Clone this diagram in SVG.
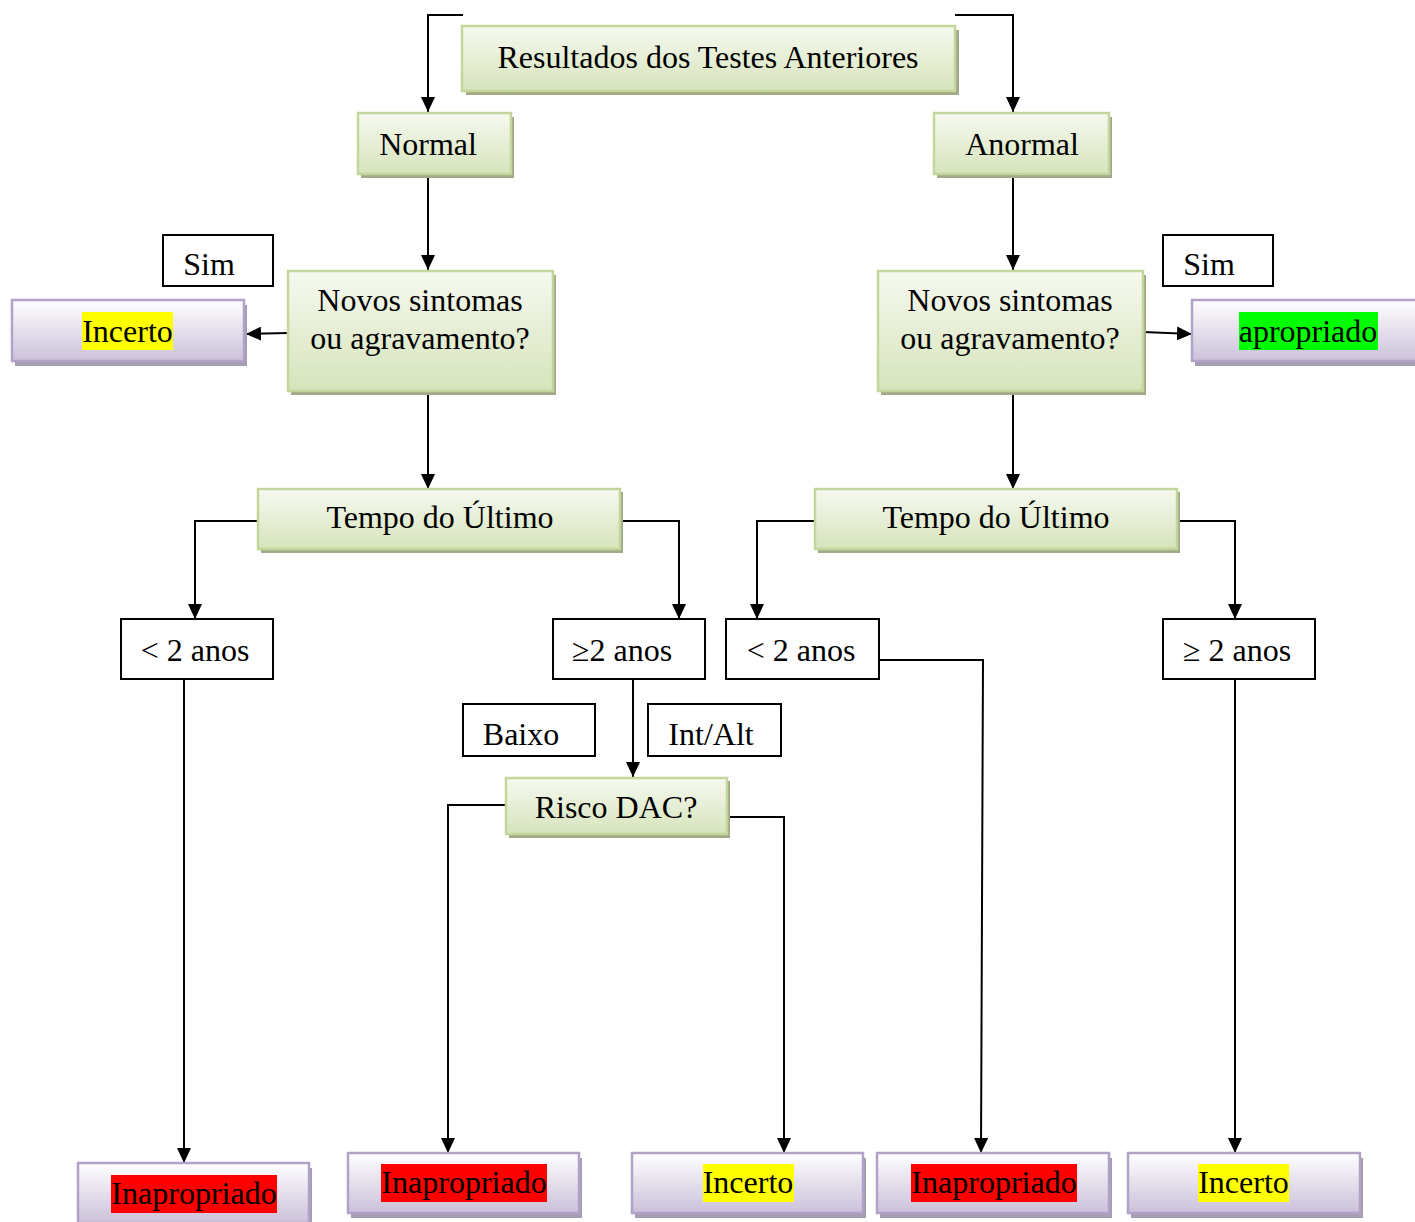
<svg xmlns="http://www.w3.org/2000/svg" width="1415" height="1222" viewBox="0 0 1415 1222">
<defs>
<linearGradient id="gG" x1="0" y1="0" x2="0" y2="1"><stop offset="0" stop-color="#f6f9f0"/><stop offset="1" stop-color="#d6e4bb"/></linearGradient>
<linearGradient id="gP" x1="0" y1="0" x2="0" y2="1"><stop offset="0" stop-color="#ffffff"/><stop offset="1" stop-color="#cbc0da"/></linearGradient>
<marker id="ar" markerUnits="userSpaceOnUse" markerWidth="15" markerHeight="14" refX="15" refY="7" orient="auto"><path d="M0,0 L15,7 L0,14 z" fill="#000"/></marker>
<style>
.g{fill:url(#gG);stroke:#c3d69b;stroke-width:2.5}
.gs{fill:#a1aa88}
.p{fill:url(#gP);stroke:#b3a2c7;stroke-width:2.5}
.ps{fill:#a59eb2}
.w{fill:#fff;stroke:#000;stroke-width:2}
.t{font-family:"Liberation Serif","Times New Roman",serif;font-size:32px;fill:#000;text-anchor:middle}
.c{fill:none;stroke:#000;stroke-width:2;marker-end:url(#ar)}
.hy{fill:#ffff00}.hr{fill:#ff0000}.hg{fill:#00ff00}
</style>
</defs>
<g id="connectors">
<path class="c" d="M463,15 H428 V112"/>
<path class="c" d="M955,15 H1013 V112"/>
<path class="c" d="M428,176 V270"/>
<path class="c" d="M1013,176 V270"/>
<path class="c" d="M288,333 L246,334"/>
<path class="c" d="M1143,332 L1192,334"/>
<path class="c" d="M428,392 V489"/>
<path class="c" d="M1013,392 V489"/>
<path class="c" d="M258,521 H195 V619"/>
<path class="c" d="M621,521 H679 V619"/>
<path class="c" d="M815,521 H757 V619"/>
<path class="c" d="M1177,521 H1235 V619"/>
<path class="c" d="M184,680 V1163"/>
<path class="c" d="M633,680 V777"/>
<path class="c" d="M506,805 H448 V1153"/>
<path class="c" d="M728,817 H784 V1153"/>
<path class="c" d="M879,660 H983 L981,1153"/>
<path class="c" d="M1235,680 V1153"/>
</g>
<g id="n-resultados"><rect class="gs" x="466" y="30" width="493" height="65"/><rect class="g" x="462" y="26" width="493" height="65"/><text class="t" x="708" y="68">Resultados dos Testes Anteriores</text></g>
<g id="n-normal"><rect class="gs" x="361" y="117" width="153" height="61"/><rect class="g" x="358" y="113" width="153" height="61"/><text class="t" x="428" y="155">Normal</text></g>
<g id="n-anormal"><rect class="gs" x="937" y="117" width="175" height="61"/><rect class="g" x="934" y="113" width="175" height="61"/><text class="t" x="1022" y="155">Anormal</text></g>
<g id="n-sim-l"><rect class="w" x="163" y="235" width="110" height="51"/><text class="t" x="209" y="275">Sim</text></g>
<g id="n-sim-r"><rect class="w" x="1163" y="235" width="110" height="51"/><text class="t" x="1209" y="275">Sim</text></g>
<g id="n-novos-l"><rect class="gs" x="291" y="275" width="265" height="120"/><rect class="g" x="288" y="271" width="265" height="120"/><text class="t" x="420" y="311">Novos sintomas</text><text class="t" x="420" y="349">ou agravamento?</text></g>
<g id="n-novos-r"><rect class="gs" x="881" y="275" width="265" height="120"/><rect class="g" x="878" y="271" width="265" height="120"/><text class="t" x="1010" y="311">Novos sintomas</text><text class="t" x="1010" y="349">ou agravamento?</text></g>
<g id="n-incerto-l"><rect class="ps" x="15" y="305" width="232" height="61"/><rect class="p" x="12" y="300" width="232" height="61"/><rect class="hy" x="82" y="312" width="91" height="38"/><text class="t" x="127.5" y="342">Incerto</text></g>
<g id="n-apropriado"><rect class="ps" x="1195" y="305" width="232" height="61"/><rect class="p" x="1192" y="300" width="232" height="61"/><rect class="hg" x="1239" y="312" width="139" height="38"/><text class="t" x="1308" y="342">apropriado</text></g>
<g id="n-tempo-l"><rect class="gs" x="261" y="492" width="362" height="61"/><rect class="g" x="258" y="489" width="362" height="60"/><text class="t" x="440" y="528">Tempo do Último</text></g>
<g id="n-tempo-r"><rect class="gs" x="818" y="492" width="362" height="61"/><rect class="g" x="815" y="489" width="362" height="60"/><text class="t" x="996" y="528">Tempo do Último</text></g>
<g id="n-menos2-l"><rect class="w" x="121" y="619" width="152" height="60"/><text class="t" x="195" y="661">&lt; 2 anos</text></g>
<g id="n-mais2-l"><rect class="w" x="553" y="619" width="152" height="60"/><text class="t" x="622" y="661">≥2 anos</text></g>
<g id="n-menos2-r"><rect class="w" x="726" y="619" width="153" height="60"/><text class="t" x="801" y="661">&lt; 2 anos</text></g>
<g id="n-mais2-r"><rect class="w" x="1163" y="619" width="152" height="60"/><text class="t" x="1237" y="661">≥ 2 anos</text></g>
<g id="n-baixo"><rect class="w" x="463" y="704" width="132" height="52"/><text class="t" x="521" y="745">Baixo</text></g>
<g id="n-intalt"><rect class="w" x="648" y="704" width="133" height="52"/><text class="t" x="711" y="745">Int/Alt</text></g>
<g id="n-risco"><rect class="gs" x="509" y="781" width="221" height="57"/><rect class="g" x="506" y="778" width="221" height="56"/><text class="t" x="616" y="818">Risco DAC?</text></g>
<g id="n-inap1"><rect class="ps" x="81" y="1168" width="231" height="60"/><rect class="p" x="78" y="1163" width="231" height="60"/><rect class="hr" x="111" y="1175" width="166" height="38"/><text class="t" x="194" y="1204">Inapropriado</text></g>
<g id="n-inap2"><rect class="ps" x="351" y="1158" width="231" height="60"/><rect class="p" x="348" y="1153" width="231" height="60"/><rect class="hr" x="381" y="1164" width="166" height="38"/><text class="t" x="464" y="1193">Inapropriado</text></g>
<g id="n-incerto-m"><rect class="ps" x="635" y="1158" width="231" height="60"/><rect class="p" x="632" y="1153" width="231" height="60"/><rect class="hy" x="703" y="1164" width="91" height="38"/><text class="t" x="748" y="1193">Incerto</text></g>
<g id="n-inap3"><rect class="ps" x="880" y="1158" width="232" height="60"/><rect class="p" x="877" y="1153" width="232" height="60"/><rect class="hr" x="911" y="1164" width="166" height="38"/><text class="t" x="994" y="1193">Inapropriado</text></g>
<g id="n-incerto-r"><rect class="ps" x="1131" y="1158" width="232" height="60"/><rect class="p" x="1128" y="1153" width="232" height="60"/><rect class="hy" x="1198" y="1164" width="91" height="38"/><text class="t" x="1243.5" y="1193">Incerto</text></g>
</svg>
